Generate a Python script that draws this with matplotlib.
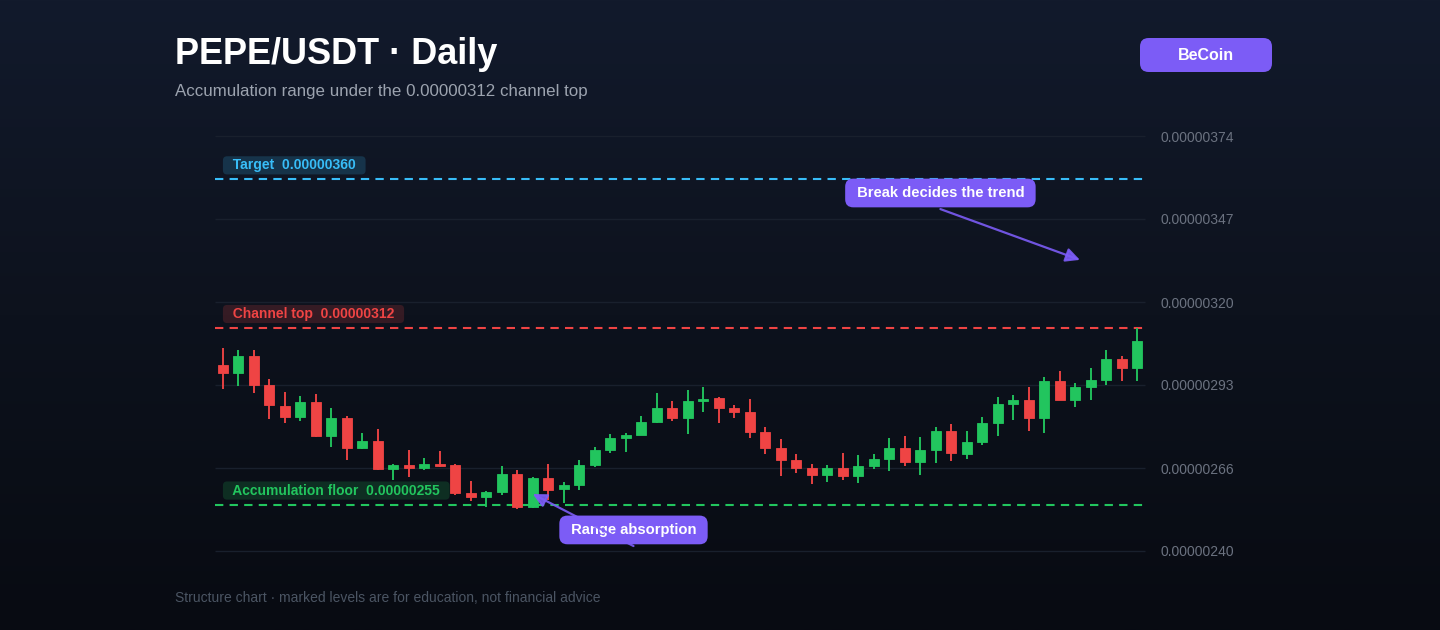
import numpy as np
import matplotlib
matplotlib.use("Agg")
import matplotlib.pyplot as plt
from matplotlib.colors import LinearSegmentedColormap
from matplotlib.patches import FancyBboxPatch

plt.rcParams['font.family'] = ['Liberation Sans', 'DejaVu Sans']

# prices in units of 1e-8 USDT, one candle per day
opens = [300.2, 297.4, 302.9, 293.6, 286.9, 283.3, 288.2, 277.2, 282.9, 273.3,
         275.6, 266.6, 267.8, 266.8, 268.0, 267.7, 258.7, 257.4, 259.1, 264.9,
         254.2, 263.7, 259.9, 261.2, 267.9, 272.5, 276.6, 277.6, 281.8, 286.3,
         282.9, 288.5, 289.3, 286.2, 284.9, 278.4, 273.4, 269.3, 266.7, 264.5,
         266.7, 264.1, 267.5, 269.8, 273.2, 268.8, 272.6, 278.6, 271.4, 275.1,
         281.3, 287.4, 288.7, 283.0, 294.8, 288.8, 292.9, 295.1, 301.9, 299.0]
highs = [305.5, 304.9, 304.9, 295.6, 291.3, 290.0, 290.8, 286.1, 283.6, 278.1,
         279.5, 268.0, 272.5, 269.9, 272.3, 268.0, 262.6, 259.5, 267.3, 266.2,
         263.9, 268.0, 262.3, 269.4, 273.5, 277.8, 278.1, 283.5, 291.0, 288.3,
         292.0, 292.9, 289.8, 287.1, 289.0, 279.9, 276.2, 271.3, 268.1, 267.8,
         271.5, 271.1, 271.3, 276.4, 277.1, 276.9, 279.9, 280.9, 278.8, 283.4,
         289.6, 290.3, 292.9, 296.1, 298.2, 294.1, 299.0, 304.9, 303.1, 311.9]
lows = [292.2, 293.4, 290.9, 282.5, 281.2, 281.9, 276.9, 273.5, 269.5, 273.0,
        266.3, 262.9, 264.0, 266.2, 267.0, 258.0, 256.2, 254.1, 258.2, 253.7,
        253.8, 256.5, 255.4, 259.6, 267.0, 271.7, 272.1, 277.4, 281.3, 281.9,
        277.9, 285.0, 281.2, 283.0, 276.4, 271.3, 264.3, 265.3, 261.5, 262.2,
        262.8, 261.9, 266.6, 265.8, 267.5, 264.4, 268.3, 269.2, 269.8, 274.3,
        277.2, 282.3, 278.6, 278.0, 288.7, 286.4, 288.9, 293.6, 295.0, 294.9]
closes = [297.4, 302.9, 293.7, 287.0, 283.4, 288.2, 277.2, 282.9, 273.3, 275.6,
          266.6, 267.8, 266.8, 268.0, 267.4, 258.8, 257.4, 259.1, 264.9, 254.2,
          263.7, 259.8, 261.2, 267.8, 272.5, 276.4, 277.6, 281.8, 286.3, 282.9,
          288.5, 288.8, 286.2, 284.9, 278.4, 273.4, 269.3, 266.8, 264.4, 266.7,
          264.1, 267.4, 269.7, 273.2, 268.8, 272.5, 278.6, 271.5, 275.1, 281.2,
          287.4, 288.7, 283.0, 294.8, 288.8, 292.9, 295.1, 301.9, 299.0, 307.7]

level_values = [360, 312, 255]
level_names = ["Target", "Channel top", "Accumulation floor"]
level_text = ["0.00000360", "0.00000312", "0.00000255"]
level_colors = ["#38bdf8", "#ef4444", "#22c55e"]

tick_values = [240, 266.8, 293.6, 320.4, 347.2, 374]
tick_labels = ["0.00000240", "0.00000266", "0.00000293",
               "0.00000320", "0.00000347", "0.00000374"]

note_texts = ["Break decides the trend", "Range absorption"]
note_targets = [(55.3, 334.0), (20, 258.4)]
note_boxes = [(46.3, 355.6), (26.5, 246.8)]
note_starts = [(46.3, 350.4), (26.5, 241.6)]

UP = "#22c55e"
DOWN = "#ef4444"
PURPLE = "#7c5cf6"

fig = plt.figure(figsize=(14.4, 6.3), dpi=100)

# background gradient
bg = fig.add_axes([0, 0, 1, 1], zorder=-10)
cmap = LinearSegmentedColormap.from_list("bg", ["#121a2c", "#0d121d", "#080b12"])
bg.imshow(np.linspace(0, 1, 256).reshape(-1, 1), aspect="auto", cmap=cmap,
          extent=[0, 1, 0, 1])
bg.axis("off")

ax = fig.add_axes([215 / 1440, 79 / 630, 930 / 1440, 415 / 630])
ax.set_facecolor("none")

x = np.arange(len(opens))
o = np.array(opens)
c = np.array(closes)
colors = [UP if cc >= oo else DOWN for oo, cc in zip(o, c)]

ax.vlines(x, lows, highs, colors=colors, lw=1.35, zorder=3)
body_bottom = np.minimum(o, c)
body_height = np.maximum(np.abs(c - o), 0.6)
ax.bar(x, body_height, bottom=body_bottom, width=0.64, color=colors,
       edgecolor=colors, lw=0.6, zorder=4)

ax.set_xlim(-0.5, len(opens) - 0.5)
ax.set_ylim(tick_values[0], tick_values[-1])
ax.hlines(tick_values, -0.5, len(opens) - 0.5, colors="#19202d", lw=1,
          zorder=1, clip_on=False)

# marked levels
for val, name, txt, col in zip(level_values, level_names, level_text, level_colors):
    ax.axhline(val, color=col, lw=1.5, dashes=(4, 3), zorder=2)
    lab = ax.annotate(f"  {name}  {txt}  ", xy=(0, val),
                      xycoords=("axes fraction", "data"),
                      xytext=(10, 14), textcoords="offset pixels",
                      ha="left", va="center", fontsize=10, fontweight="bold",
                      color=col, zorder=5,
                      bbox=dict(boxstyle="round,pad=0.15,rounding_size=0.3",
                                fc=col, ec="none"))
    lab.get_bbox_patch().set_alpha(0.18)

# annotations
for txt, tgt, box, start in zip(note_texts, note_targets, note_boxes, note_starts):
    ax.text(box[0], box[1], f" {txt} ", ha="center", va="center",
            fontsize=10.6, fontweight="bold", color="white", zorder=6,
            bbox=dict(boxstyle="round,pad=0.5,rounding_size=0.55",
                      fc=PURPLE, ec="none"))
    ax.annotate("", xy=tgt, xytext=start,
                arrowprops=dict(arrowstyle="-|>,head_length=0.6,head_width=0.3",
                                color=PURPLE, lw=1.6, mutation_scale=14,
                                shrinkA=0, shrinkB=0, alpha=0.9),
                zorder=7)

ax.yaxis.tick_right()
ax.set_yticks(tick_values, tick_labels)
ax.tick_params(axis="y", length=0, pad=11, labelcolor="#6b7280", labelsize=10)
ax.set_xticks([])
for s in ax.spines.values():
    s.set_visible(False)

# header
fig.text(175 / 1440, 1 - 64 / 630, "PEPE/USDT · Daily", fontsize=26,
         fontweight="bold", color="white", va="baseline")
fig.text(175 / 1440, 1 - 96 / 630,
         "Accumulation range under the 0.00000312 channel top",
         fontsize=12.2, color="#9ca3af", va="baseline")

btn = FancyBboxPatch((1140 / 1440, 1 - 72 / 630), 132 / 1440, 34 / 630,
                     boxstyle="round,pad=0,rounding_size=0.006",
                     transform=fig.transFigure, fc=PURPLE, ec="none",
                     mutation_aspect=1440 / 630)
fig.patches.append(btn)
fig.text(1206 / 1440, 1 - 55 / 630, "BeCoin", fontsize=11.5, fontweight="bold",
         color="white", ha="center", va="center")

fig.text(175 / 1440, 1 - 602 / 630,
         "Structure chart · marked levels are for education, not financial advice",
         fontsize=10, color="#4b5563", va="baseline")

fig.savefig("out.png", dpi=100)
